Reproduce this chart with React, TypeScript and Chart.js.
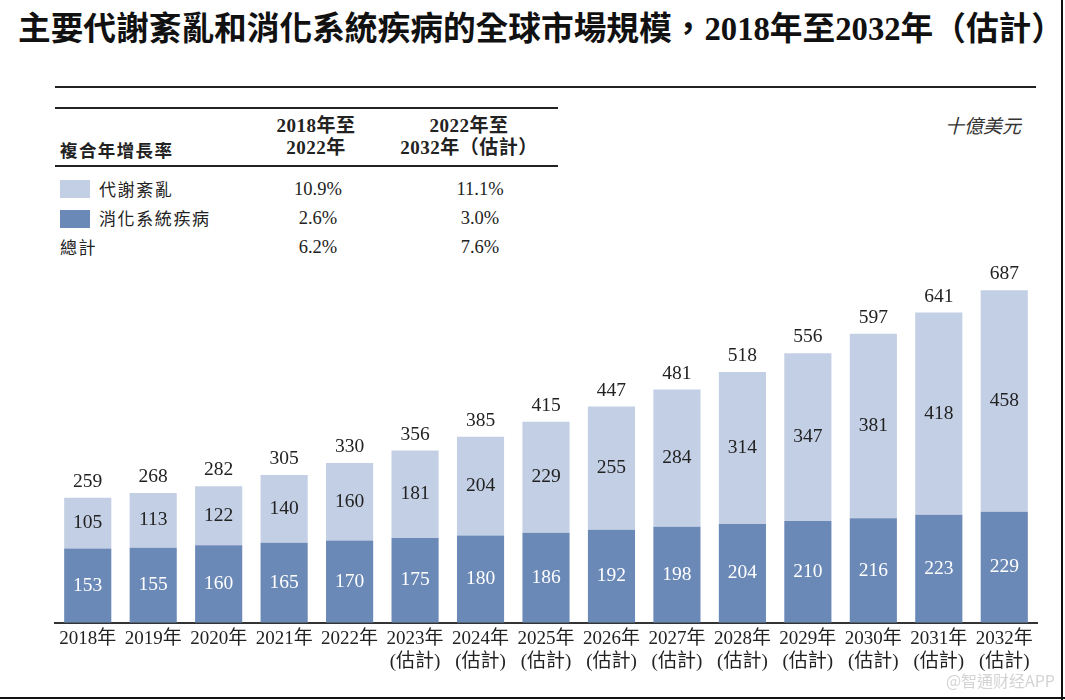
import React, { useEffect, useRef } from "react";
import { Chart, registerables } from "chart.js";

Chart.register(...registerables);

const years = ["2018", "2019", "2020", "2021", "2022", "2023", "2024", "2025", "2026", "2027", "2028", "2029", "2030", "2031", "2032"];
const estimated = [false, false, false, false, false, true, true, true, true, true, true, true, true, true, true];
const digestive = [153, 155, 160, 165, 170, 175, 180, 186, 192, 198, 204, 210, 216, 223, 229];
const metabolic = [105, 113, 122, 140, 160, 181, 204, 229, 255, 284, 314, 347, 381, 418, 458];
const totals = [259, 268, 282, 305, 330, 356, 385, 415, 447, 481, 518, 556, 597, 641, 687];

const seriesNames = ["代謝紊亂", "消化系統疾病"];
const cagrHeader1 = ["2018年至", "2022年"];
const cagrHeader2 = ["2022年至", "2032年（估計）"];
const cagrRows = [
  { name: "代謝紊亂", a: "10.9%", b: "11.1%" },
  { name: "消化系統疾病", a: "2.6%", b: "3.0%" },
  { name: "總計", a: "6.2%", b: "7.6%" },
];

const LIGHT = "#c3cfe4";
const DARK = "#6b89b7";
const SERIF = "'Liberation Serif', 'Noto Sans CJK TC', serif";
const CJK = "'Noto Sans CJK TC', 'Liberation Serif', sans-serif";

const labelPlugin = {
  id: "barLabels",
  afterDatasetsDraw(chart: any) {
    const ctx = chart.ctx;
    ctx.save();
    ctx.font = `19.5px ${SERIF}`;
    ctx.textAlign = "center";
    ctx.textBaseline = "middle";
    chart.data.datasets.forEach((ds: any, di: number) => {
      const meta = chart.getDatasetMeta(di);
      meta.data.forEach((bar: any, i: number) => {
        const p = bar.getProps(["x", "y", "base"], true);
        ctx.fillStyle = di === 0 ? "#ffffff" : "#222222";
        ctx.fillText(String(ds.data[i]), p.x, (p.y + p.base) / 2);
      });
    });
    const topMeta = chart.getDatasetMeta(chart.data.datasets.length - 1);
    topMeta.data.forEach((bar: any, i: number) => {
      const p = bar.getProps(["x", "y"], true);
      ctx.fillStyle = "#222222";
      ctx.fillText(String(totals[i]), p.x, p.y - 16);
    });
    ctx.restore();
  },
};

function BarChart() {
  const ref = useRef<HTMLCanvasElement>(null);
  useEffect(() => {
    if (!ref.current) return;
    const labels = years.map((y, i) => (estimated[i] ? [y + "年", "(估計)"] : [y + "年"]));
    const chart = new Chart(ref.current, {
      type: "bar",
      data: {
        labels,
        datasets: [
          { label: seriesNames[1], data: digestive, backgroundColor: DARK, barPercentage: 0.72, categoryPercentage: 1 },
          { label: seriesNames[0], data: metabolic, backgroundColor: LIGHT, barPercentage: 0.72, categoryPercentage: 1 },
        ],
      },
      options: {
        animation: false,
        responsive: false,
        maintainAspectRatio: false,
        layout: { padding: { left: 55, right: 28, top: 34, bottom: 21 } },
        plugins: { legend: { display: false }, tooltip: { enabled: false } },
        scales: {
          x: {
            stacked: true,
            grid: { display: false, drawTicks: false },
            border: { display: true, color: "#333333", width: 2 },
            ticks: {
              color: "#222222",
              font: { family: SERIF, size: 19, lineHeight: 1.22 },
              padding: 5,
              maxRotation: 0,
              autoSkip: false,
            },
          },
          y: {
            stacked: true,
            display: false,
            min: 0,
            max: 700,
          },
        },
      },
      plugins: [labelPlugin],
    });
    return () => chart.destroy();
  }, []);
  return <canvas ref={ref} width={1065} height={450} style={{ position: "absolute", left: 0, top: 250, width: 1065, height: 450 }} />;
}

export default function App() {
  const abs = (s: React.CSSProperties): React.CSSProperties => ({ position: "absolute", whiteSpace: "nowrap", ...s });
  return (
    <div style={{ position: "fixed", left: 0, top: 0, width: 1065, height: 700, background: "#fff", overflow: "hidden", color: "#222" }}>
      <div style={abs({ left: 18, top: 5, fontFamily: CJK, fontWeight: 700, fontSize: 32.7, lineHeight: "42px", color: "#111" })}>
        主要代謝紊亂和消化系統疾病的全球市場規模，<span style={{ fontFamily: SERIF, fontWeight: 700 }}>2018</span>年至<span style={{ fontFamily: SERIF, fontWeight: 700 }}>2032</span>年（估計）
      </div>
      <div style={abs({ left: 55, top: 86, width: 981, height: 2, background: "#222" })} />
      <div style={abs({ left: 55, top: 107, width: 503, height: 2, background: "#222" })} />
      <div style={abs({ left: 55, top: 165, width: 503, height: 2, background: "#222" })} />
      <div style={abs({ left: 60, top: 138, fontFamily: CJK, fontWeight: 700, fontSize: 17.5, letterSpacing: 1.4, lineHeight: "24px" })}>複合年增長率</div>
      {cagrHeader1.map((t, i) => (
        <div key={"h1" + i} style={abs({ left: 316, top: 114 + i * 22, transform: "translateX(-50%)", fontFamily: SERIF, fontWeight: 700, fontSize: 19, lineHeight: "24px", letterSpacing: 0.5 })}>{t}</div>
      ))}
      {cagrHeader2.map((t, i) => (
        <div key={"h2" + i} style={abs({ left: 469, top: 114 + i * 22, transform: "translateX(-50%)", fontFamily: SERIF, fontWeight: 700, fontSize: 19, lineHeight: "24px", letterSpacing: 0.5 })}>{t}</div>
      ))}
      {cagrRows.map((r, i) => (
        <React.Fragment key={"r" + i}>
          {i < 2 && <div style={abs({ left: 60, top: 180 + i * 30, width: 30, height: 18, background: i === 0 ? LIGHT : DARK })} />}
          <div style={abs({ left: i < 2 ? 99 : 60, top: 177 + i * 29, fontFamily: CJK, fontSize: 17, letterSpacing: 1.6, lineHeight: "24px" })}>{r.name}</div>
          <div style={abs({ left: 318, top: 177 + i * 29, transform: "translateX(-50%)", fontFamily: SERIF, fontSize: 18.5, lineHeight: "24px" })}>{r.a}</div>
          <div style={abs({ left: 480, top: 177 + i * 29, transform: "translateX(-50%)", fontFamily: SERIF, fontSize: 18.5, lineHeight: "24px" })}>{r.b}</div>
        </React.Fragment>
      ))}
      <div style={abs({ right: 44, top: 112, fontFamily: CJK, fontStyle: "italic", fontSize: 19, lineHeight: "26px", color: "#333" })}>十億美元</div>
      <BarChart />
      <div style={abs({ right: 10, top: 669, fontFamily: CJK, fontSize: 16, lineHeight: "22px", color: "#d4d4d4" })}>@智通财经APP</div>
      <div style={abs({ left: 1061, top: 0, width: 2, height: 700, background: "#111" })} />
      <div style={abs({ left: 0, top: 697, width: 1065, height: 2, background: "#111" })} />
    </div>
  );
}
